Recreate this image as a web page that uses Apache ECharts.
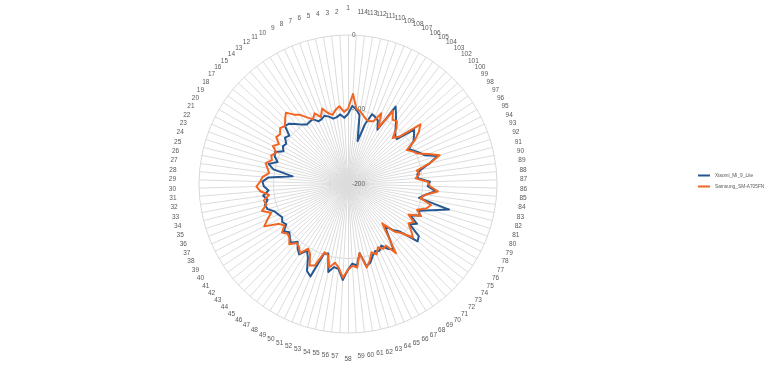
<!DOCTYPE html>
<html><head><meta charset="utf-8">
<script src="https://cdn.jsdelivr.net/npm/echarts@6/dist/echarts.min.js"></script>
<style>html,body{margin:0;padding:0;background:#fff}#c{width:768px;height:367px}</style>
</head><body><div id="c"></div>
<script>
const categories = Array.from({length:114},(_,k)=>String(k+1));
const seriesNames = ['Xiaomi_Mi_9_Lite','Samsung_SM-A705FN'];
const axisMin = -200, axisMax = 0;
const xiaomi = [-106,-111,-106,-109,-110,-106,-103,-106,-107,-101,-102,-103,-99,-93,
-87,-85,-98,-95,-101,-99,-103,-93,-95,-101,-90,-98,-125,-93,-85,
-87,-93,-85,-90,-85,-87,-95,-98,-101,-98,-101,-93,-98,-94,-90,-97,
-90,-85,-95,-87,-71,-66,-101,-103,-79,-87,-85,-71,
-85,-93,-90,-106,-87,-90,-98,-103,-101,-106,-98,-93,-111,
-125,-114,-106,-79,-82,-101,-93,-106,-95,-98,-82,-60,-103,-95,-82,-93,
-90,-106,-106,-101,-87,-74,-90,-95,-101,-106,-95,-90,-85,-111,
-109,-103,-95,-87,-78,-117,-106,-103,-101,-117,-141,-106,-99,-95];
const samsung = [-99,-103,-95,-99,-105,-101,-93,-103,-95,-101,-95,-87,-82,-73,
-79,-85,-82,-87,-85,-93,-87,-95,-90,-93,-86,-90,-93,-85,-82,
-77,-82,-93,-85,-87,-79,-90,-82,-74,-93,-98,-90,-95,-93,-87,-95,
-93,-87,-98,-93,-79,-82,-103,-101,-85,-93,-87,-74,
-85,-90,-87,-106,-85,-93,-103,-98,-106,-101,-103,-87,-114,
-130,-111,-103,-87,-95,-103,-98,-109,-93,-101,-90,-85,-101,-95,-79,-90,
-93,-109,-103,-106,-87,-71,-85,-98,-103,-109,-93,-82,-74,-106,
-114,-101,-93,-95,-85,-114,-95,-109,-111,-110,-106,-101,-98,-79];
const colors = ['#255891','#F26522'];

const chart = echarts.init(document.getElementById('c'), null, {renderer:'canvas'});
chart.setOption({
  animation:false,
  color: colors,
  legend:{
    orient:'vertical', left:698, top:173, itemGap:6, padding:0,
    icon:'rect', itemWidth:12, itemHeight:2,
    textStyle:{fontSize:4.8, color:'#595959', fontFamily:'Liberation Sans'},
    data: seriesNames
  },
  radar:{
    center:[348,184], radius:149, startAngle:90,
    splitNumber:2,
    shape:'circle',
    axisName:{color:'#595959', fontSize:6.5, fontFamily:'Liberation Sans'},
    nameGap:23,
    axisLine:{lineStyle:{color:'#dcdcdc', width:1}},
    splitLine:{lineStyle:{color:'#d9d9d9', width:1}},
    splitArea:{show:false},
    axisTick:{show:false},
    axisLabel:{show:false},
    indicator: categories.map(n=>({name:n, min:axisMin, max:axisMax}))
  },
  polar:{center:[348,184], radius:149},
  angleAxis:{show:false, startAngle:90, min:0, max:360},
  radiusAxis:{
    min:axisMin, max:axisMax, interval:100,
    axisLine:{show:false}, axisTick:{show:false}, splitLine:{show:false},
    axisLabel:{fontSize:6.5, color:'#595959', fontFamily:'Liberation Sans', margin:-4, align:'left'}
  },
  series:[{
    type:'radar',
    symbol:'none',
    lineStyle:{width:2},
    data:[
      {name:seriesNames[0], value:xiaomi, lineStyle:{color:colors[0], width:2}, itemStyle:{color:colors[0]}},
      {name:seriesNames[1], value:samsung, lineStyle:{color:colors[1], width:2}, itemStyle:{color:colors[1]}}
    ]
  }]
});
</script></body></html>
